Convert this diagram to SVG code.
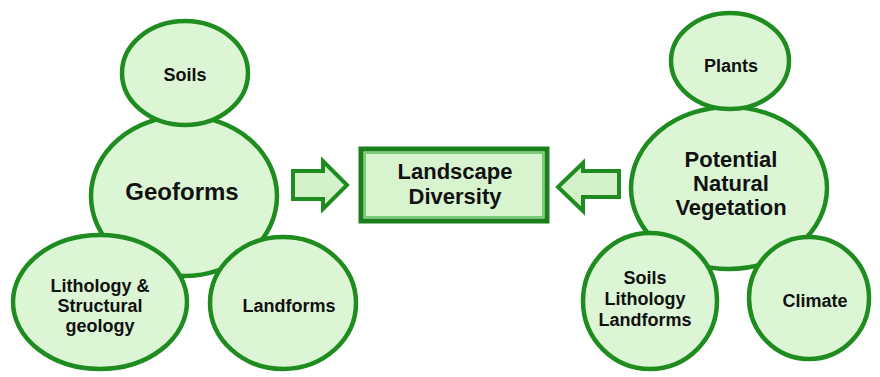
<svg xmlns="http://www.w3.org/2000/svg" width="880" height="377" viewBox="0 0 880 377">
<style>
.n{fill:#dcf6d5;stroke:#1e8c1e;stroke-width:4.5}
.t{font-family:"Liberation Sans",Arial,sans-serif;font-weight:bold;fill:#111;text-anchor:middle}
.s{font-size:18px}
.b{font-size:24px}
.m{font-size:22px}
.a{fill:#d4f2ca;stroke:#1e8c1e;stroke-width:4;stroke-linejoin:miter}
</style>
<rect width="880" height="377" fill="#fff"/>
<g id="geoforms"><ellipse class="n" cx="184" cy="196" rx="93" ry="80"/><text class="t b" x="182" y="200">Geoforms</text></g>
<g id="soils"><ellipse class="n" cx="185" cy="73" rx="63" ry="52"/><text class="t s" x="185" y="81">Soils</text></g>
<g id="lithology"><ellipse class="n" cx="100" cy="302" rx="87" ry="67"/><text class="t s" x="100" y="292">Lithology &amp;</text><text class="t s" x="100" y="312">Structural</text><text class="t s" x="100" y="332">geology</text></g>
<g id="landforms"><ellipse class="n" cx="283" cy="303" rx="73" ry="66"/><text class="t s" x="289" y="312">Landforms</text></g>
<g id="pnv"><ellipse class="n" cx="729" cy="188" rx="98" ry="81"/><text class="t m" x="731" y="167">Potential</text><text class="t m" x="731" y="191">Natural</text><text class="t m" x="731" y="215">Vegetation</text></g>
<g id="plants"><ellipse class="n" cx="730" cy="61" rx="59" ry="48"/><text class="t s" x="731" y="72">Plants</text></g>
<g id="soils2"><ellipse class="n" cx="650" cy="301" rx="67" ry="68"/><text class="t s" x="645" y="284">Soils</text><text class="t s" x="645" y="305">Lithology</text><text class="t s" x="645" y="326">Landforms</text></g>
<g id="climate"><ellipse class="n" cx="809" cy="298" rx="60" ry="61"/><text class="t s" x="815" y="307">Climate</text></g>
<g id="landscape"><rect x="361" y="149" width="186" height="72" fill="#d8f4cf" stroke="#1a7f1a" stroke-width="5"/><rect x="365" y="153" width="178" height="64" fill="none" stroke="#5cbd5c" stroke-width="1.5"/><text class="t m" x="455" y="179">Landscape</text><text class="t m" x="455" y="204">Diversity</text></g>
<g id="connectors">
<path class="a" d="M293 171 L323 171 L323 161 L347 185 L323 209 L323 199 L293 199 Z"/>
<path class="a" d="M619 171 L583 171 L583 163 L558 187 L583 211 L583 197 L619 197 Z"/>
</g>
</svg>
